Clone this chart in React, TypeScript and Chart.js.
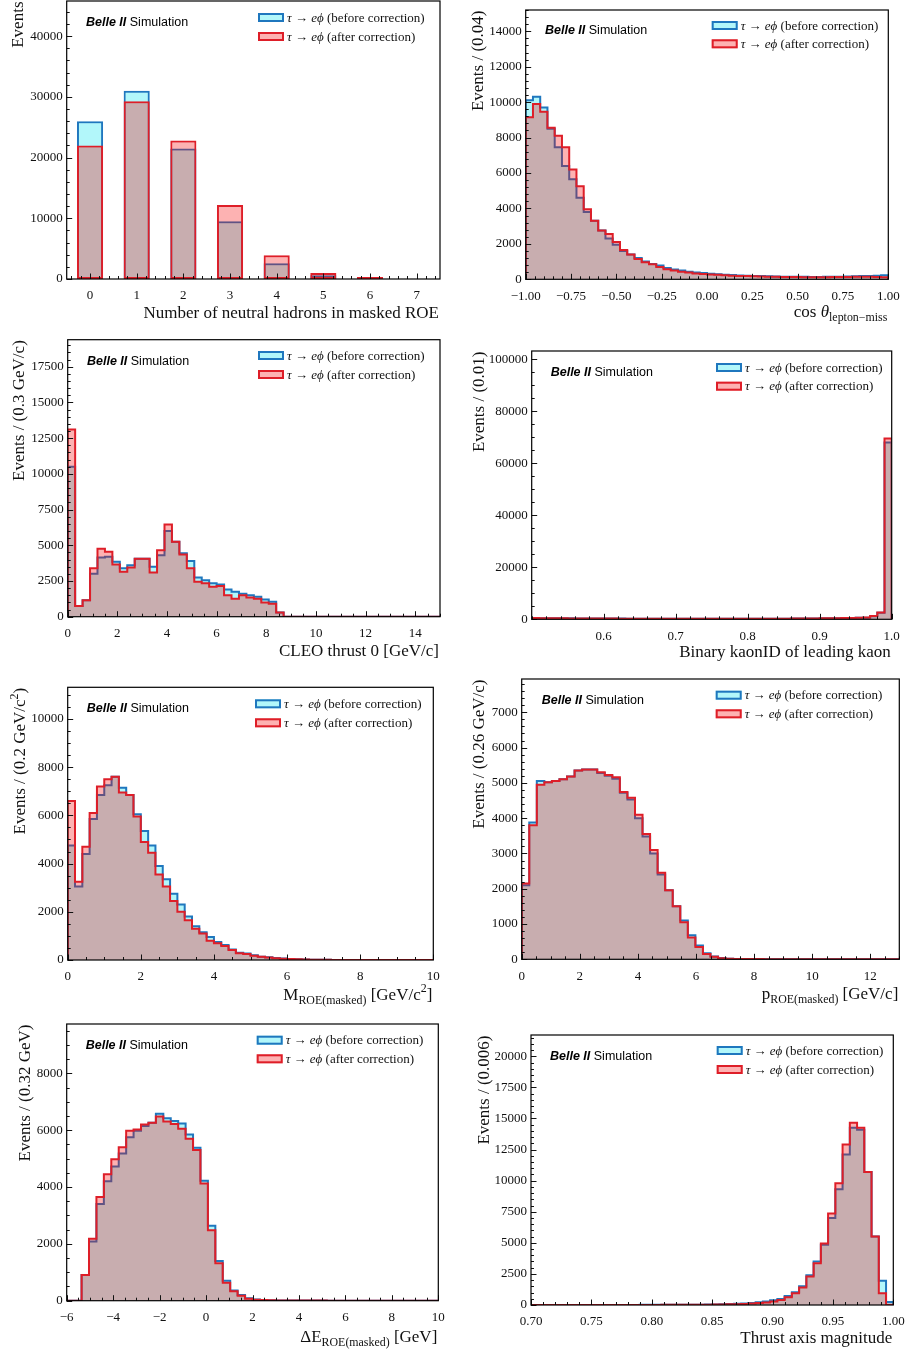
import React, { useEffect, useRef } from 'react';
import { Chart, registerables } from 'chart.js';

Chart.register(...registerables);

const SERIF = '"Liberation Serif", "DejaVu Serif", serif';
const SANS = '"Liberation Sans", Arial, sans-serif';

const BEFORE_EDGE = 'rgb(31,119,190)';
const AFTER_EDGE = 'rgb(222,30,40)';
const BEFORE_FILL = 'rgba(0,230,240,0.3)';
const AFTER_FILL = 'rgba(248,0,0,0.3)';

// ---------------- data ----------------
// Panel 1: number of neutral hadrons in masked ROE
const nhadCategories = [0, 1, 2, 3, 4, 5, 6, 7];
const nhadBefore = [26000, 31000, 21500, 9500, 2600, 600, 120, 0];
const nhadAfter = [22000, 29300, 22800, 12200, 3900, 1000, 350, 0];
const nhadXTicks = [0, 1, 2, 3, 4, 5, 6, 7];
const nhadYTicks = [0, 10000, 20000, 30000, 40000];

// Panel 2: cos theta lepton-miss, 50 bins in [-1, 1]
const cosRange = [-1, 1];
const cosBefore = [10100, 10300, 9700, 8500, 7450, 6400, 5650, 4600, 3800, 3300,
  2750, 2300, 1950, 1600, 1400, 1200, 1000, 870, 780, 640,
  560, 500, 430, 390, 360, 320, 290, 260, 240, 220,
  200, 190, 180, 170, 160, 150, 145, 140, 140, 135,
  135, 140, 140, 150, 160, 170, 180, 190, 200, 230];
const cosAfter = [9150, 9900, 9450, 8550, 8100, 7450, 6200, 5250, 3950, 3300,
  2750, 2550, 2100, 1650, 1400, 1150, 960, 850, 700, 570,
  490, 430, 380, 330, 300, 270, 250, 230, 200, 190,
  180, 170, 160, 150, 140, 135, 130, 125, 120, 120,
  120, 120, 125, 130, 135, 140, 140, 140, 130, 110];
const cosXTicks = [-1, -0.75, -0.5, -0.25, 0, 0.25, 0.5, 0.75, 1];
const cosYTicks = [0, 2000, 4000, 6000, 8000, 10000, 12000, 14000];

// Panel 3: CLEO thrust 0, 50 bins in [0, 15]
const cleoRange = [0, 15];
const cleoBefore = [10500, 750, 1150, 3000, 4150, 4200, 3850, 3400, 3600, 4050,
  4050, 3500, 4300, 6000, 5250, 4450, 3900, 2750, 2550, 2350,
  2250, 1900, 1750, 1600, 1500, 1400, 1200, 1050, 300, 0,
  0, 0, 0, 0, 0, 0, 0, 0, 0, 0,
  0, 0, 0, 0, 0, 0, 0, 0, 0, 0];
const cleoAfter = [13100, 750, 1150, 3400, 4750, 4550, 3650, 3150, 3450, 4050,
  4050, 3100, 4650, 6450, 5250, 4350, 3400, 2450, 2350, 2100,
  2150, 1500, 1250, 1500, 1350, 1250, 1000, 900, 300, 0,
  0, 0, 0, 0, 0, 0, 0, 0, 0, 0,
  0, 0, 0, 0, 0, 0, 0, 0, 0, 0];
const cleoXTicks = [0, 2, 4, 6, 8, 10, 12, 14];
const cleoYTicks = [0, 2500, 5000, 7500, 10000, 12500, 15000, 17500];

// Panel 4: binary kaonID of leading kaon, 50 bins in [0.5, 1.0]
const kaonRange = [0.5, 1.0];
const kaonBefore = [480, 450, 420, 400, 380, 360, 340, 320, 300, 290,
  280, 270, 260, 250, 240, 230, 220, 210, 200, 200,
  190, 190, 180, 180, 180, 180, 180, 190, 190, 200,
  200, 210, 220, 230, 240, 250, 270, 290, 310, 340,
  370, 400, 440, 480, 520, 600, 620, 1200, 2500, 68000];
const kaonAfter = [460, 430, 400, 380, 360, 340, 320, 300, 290, 280,
  270, 260, 250, 240, 230, 220, 210, 200, 190, 190,
  180, 180, 170, 170, 170, 170, 170, 180, 180, 190,
  190, 200, 210, 220, 230, 240, 260, 280, 300, 330,
  360, 390, 430, 470, 510, 580, 650, 1270, 2650, 69500];
const kaonXTicks = [0.6, 0.7, 0.8, 0.9, 1.0];
const kaonYTicks = [0, 20000, 40000, 60000, 80000, 100000];

// Panel 5: M_ROE(masked), 50 bins in [0, 10]
const mroeRange = [0, 10];
const mroeBefore = [4750, 3050, 4400, 5850, 6850, 7250, 7600, 7150, 6850, 6050,
  5350, 4750, 3900, 3350, 2750, 2300, 1800, 1400, 1150, 950,
  750, 620, 440, 300, 270, 200, 140, 110, 80, 60,
  45, 30, 20, 15, 10, 8, 5, 4, 3, 2,
  2, 1, 1, 1, 0, 0, 0, 0, 0, 0];
const mroeAfter = [6600, 3250, 4700, 6100, 7200, 7500, 7600, 6950, 6850, 5950,
  4900, 4450, 3550, 3050, 2450, 2000, 1650, 1300, 1100, 800,
  690, 580, 420, 280, 250, 180, 130, 100, 75, 55,
  40, 28, 18, 13, 9, 7, 5, 4, 3, 2,
  2, 1, 1, 1, 0, 0, 0, 0, 0, 0];
const mroeXTicks = [0, 2, 4, 6, 8, 10];
const mroeYTicks = [0, 2000, 4000, 6000, 8000, 10000];

// Panel 6: p_ROE(masked), 50 bins in [0, 13]
const proeRange = [0, 13];
const proeBefore = [2100, 3880, 5050, 5020, 5050, 5100, 5180, 5350, 5380, 5380,
  5280, 5200, 5120, 4720, 4530, 4000, 3480, 3000, 2400, 1960,
  1500, 1100, 680, 390, 170, 80, 35, 18, 10, 8,
  6, 5, 4, 4, 3, 3, 2, 2, 2, 2,
  1, 1, 1, 1, 1, 1, 0, 0, 0, 0];
const proeAfter = [2150, 3800, 4950, 5020, 5050, 5100, 5180, 5350, 5380, 5380,
  5300, 5220, 5160, 4740, 4580, 4100, 3550, 3100, 2450, 1960,
  1500, 1050, 620, 350, 150, 70, 30, 15, 10, 8,
  6, 5, 4, 4, 3, 3, 2, 2, 2, 2,
  1, 1, 1, 1, 1, 1, 0, 0, 0, 0];
const proeXTicks = [0, 2, 4, 6, 8, 10, 12];
const proeYTicks = [0, 1000, 2000, 3000, 4000, 5000, 6000, 7000];

// Panel 7: Delta E_ROE(masked), 50 bins in [-6, 10]
const deRange = [-6, 10];
const deBefore = [0, 0, 900, 2080, 3400, 4200, 4720, 5180, 5750, 5980,
  6150, 6260, 6580, 6420, 6320, 6230, 5850, 5380, 4220, 2640,
  1400, 700, 360, 200, 90, 40, 25, 15, 10, 8,
  6, 5, 4, 3, 3, 2, 2, 2, 1, 1,
  1, 1, 1, 1, 0, 0, 0, 0, 0, 0];
const deAfter = [0, 0, 900, 2180, 3650, 4450, 4980, 5400, 5980, 6020,
  6200, 6260, 6480, 6300, 6220, 6050, 5700, 5300, 4120, 2480,
  1320, 630, 330, 170, 70, 35, 22, 14, 9, 7,
  6, 5, 4, 3, 3, 2, 2, 2, 1, 1,
  1, 1, 1, 1, 0, 0, 0, 0, 0, 0];
const deXTicks = [-6, -4, -2, 0, 2, 4, 6, 8, 10];
const deYTicks = [0, 2000, 4000, 6000, 8000];

// Panel 8: thrust axis magnitude, 50 bins in [0.70, 1.00]
const thrRange = [0.7, 1.0];
const thrBefore = [2, 2, 2, 3, 3, 3, 4, 4, 5, 5,
  6, 7, 8, 9, 10, 11, 12, 13, 14, 15,
  18, 20, 25, 30, 40, 50, 60, 80, 100, 130,
  170, 220, 280, 380, 480, 720, 1020, 1500, 2400, 3500,
  4850, 7000, 9300, 12100, 14250, 14100, 10700, 5500, 1950, 250];
const thrAfter = [1, 1, 2, 2, 2, 3, 3, 3, 4, 4,
  5, 5, 6, 7, 8, 8, 9, 10, 11, 12,
  12, 14, 18, 22, 28, 35, 45, 55, 70, 90,
  120, 160, 210, 290, 410, 620, 950, 1400, 2300, 3350,
  4950, 7350, 9800, 12900, 14650, 14250, 10700, 5500, 950, 30];
const thrXTicks = [0.7, 0.75, 0.8, 0.85, 0.9, 0.95, 1.0];
const thrYTicks = [0, 2500, 5000, 7500, 10000, 12500, 15000, 17500, 20000];

// ---------------- helpers ----------------
const minus = (s) => s.replace('-', '\u2212');
const fmtInt = (v) => minus(String(Math.round(v)));
const fmt1 = (v) => minus(v.toFixed(1));
const fmt2 = (v) => minus(v.toFixed(2));

function stepPoints(range, values) {
  const [lo, hi] = range;
  const w = (hi - lo) / values.length;
  const pts = [{ x: lo, y: 0 }];
  values.forEach((v, i) => pts.push({ x: lo + i * w, y: v }));
  pts.push({ x: hi, y: 0 });
  return pts;
}

function minorValues(min, max, step, majors) {
  const out = [];
  const k0 = Math.ceil(min / step - 1e-6);
  const k1 = Math.floor(max / step + 1e-6);
  for (let k = k0; k <= k1; k++) {
    const v = k * step;
    if (!majors.some((m) => Math.abs(m - v) < step * 1e-3)) out.push(v);
  }
  return out;
}

function drawSegs(ctx, segs, x, y, size, align) {
  const parts = segs.map((s) => {
    const sz = s.sub || s.sup ? size * 0.7 : size;
    const font = `${s.it ? 'italic ' : ''}${sz}px ${SERIF}`;
    ctx.font = font;
    return { ...s, font, w: ctx.measureText(s.t).width };
  });
  const total = parts.reduce((a, p) => a + p.w, 0);
  let cx = align === 'right' ? x - total : x;
  ctx.textAlign = 'left';
  ctx.textBaseline = 'alphabetic';
  for (const p of parts) {
    ctx.font = p.font;
    const dy = p.sub ? size * 0.27 : p.sup ? -size * 0.42 : 0;
    ctx.fillText(p.t, cx, y + dy);
    cx += p.w;
  }
}

// ---------------- panel layout specs ----------------
const panels = [
  {
    id: 'nhad', kind: 'bar', canvas: [0, 0, 453, 335], plot: [66.7, 1, 440, 279],
    xRange: [-0.5, 7.5], yMax: 45800, cats: nhadCategories, before: nhadBefore, after: nhadAfter,
    xTicks: nhadXTicks, xMinor: 0.2, xFmt: fmtInt, yTicks: nhadYTicks, yMinor: 2000,
    yTitle: [{ t: 'Events' }], yTitleX: 23,
    xTitle: [{ t: 'Number of neutral hadrons in masked ROE' }], xTitleY: 317.5,
    legend: [258, 13, 19], belle: [86, 26],
  },
  {
    id: 'cos', kind: 'hist', canvas: [453, 0, 454, 335], plot: [525.7, 10, 888.3, 279.3],
    xRange: cosRange, yMax: 15200, before: cosBefore, after: cosAfter,
    xTicks: cosXTicks, xMinor: 0.05, xFmt: fmt2, yTicks: cosYTicks, yMinor: 400,
    yTitle: [{ t: 'Events / (0.04)' }], yTitleX: 482.5,
    xTitle: [{ t: 'cos ' }, { t: '\u03b8', it: true }, { t: 'lepton\u2212miss', sub: true }], xTitleY: 316.5,
    legend: [711.7, 21, 18.3], belle: [545, 34.3],
  },
  {
    id: 'cleo', kind: 'hist', canvas: [0, 335, 453, 340], plot: [67.7, 339.7, 440, 616.7],
    xRange: cleoRange, yMax: 19390, before: cleoBefore, after: cleoAfter,
    xTicks: cleoXTicks, xMinor: 0.5, xFmt: fmtInt, yTicks: cleoYTicks, yMinor: 500,
    yTitle: [{ t: 'Events / (0.3 GeV/c)' }], yTitleX: 23.5,
    xTitle: [{ t: 'CLEO thrust 0 [GeV/c]' }], xTitleY: 655.5,
    legend: [258, 351, 19], belle: [87, 365],
  },
  {
    id: 'kaon', kind: 'hist', canvas: [453, 335, 454, 340], plot: [531.7, 351, 891.7, 619.3],
    xRange: kaonRange, yMax: 103190, before: kaonBefore, after: kaonAfter,
    xTicks: kaonXTicks, xMinor: 0.02, xFmt: fmt1, yTicks: kaonYTicks, yMinor: 5000,
    yTitle: [{ t: 'Events / (0.01)' }], yTitleX: 483.5,
    xTitle: [{ t: 'Binary kaonID of leading kaon' }], xTitleY: 656.5,
    legend: [716, 363, 18.7], belle: [550.7, 376],
  },
  {
    id: 'mroe', kind: 'hist', canvas: [0, 675, 453, 340], plot: [67.7, 687.3, 433.3, 960],
    xRange: mroeRange, yMax: 11315, before: mroeBefore, after: mroeAfter,
    xTicks: mroeXTicks, xMinor: 0.5, xFmt: fmtInt, yTicks: mroeYTicks, yMinor: 500,
    yTitle: [{ t: 'Events / (0.2 GeV/c' }, { t: '2', sup: true }, { t: ')' }], yTitleX: 25,
    xTitle: [{ t: 'M' }, { t: 'ROE(masked)', sub: true }, { t: ' [GeV/c' }, { t: '2', sup: true }, { t: ']' }], xTitleY: 999.5,
    legend: [255, 699.3, 19], belle: [86.7, 712],
  },
  {
    id: 'proe', kind: 'hist', canvas: [453, 675, 454, 340], plot: [521.7, 679, 899.3, 959.3],
    xRange: proeRange, yMax: 7944, before: proeBefore, after: proeAfter,
    xTicks: proeXTicks, xMinor: 0.5, xFmt: fmtInt, yTicks: proeYTicks, yMinor: 200,
    yTitle: [{ t: 'Events / (0.26 GeV/c)' }], yTitleX: 484,
    xTitle: [{ t: 'p' }, { t: 'ROE(masked)', sub: true }, { t: ' [GeV/c]' }], xTitleY: 998.5,
    legend: [715.7, 690.7, 18.6], belle: [541.7, 704.3],
  },
  {
    id: 'de', kind: 'hist', canvas: [0, 1015, 453, 336], plot: [66.7, 1024, 438.3, 1300.7],
    xRange: deRange, yMax: 9734, before: deBefore, after: deAfter,
    xTicks: deXTicks, xMinor: 0.5, xFmt: fmtInt, yTicks: deYTicks, yMinor: 500,
    yTitle: [{ t: 'Events / (0.32 GeV)' }], yTitleX: 29.5,
    xTitle: [{ t: '\u0394E' }, { t: 'ROE(masked)', sub: true }, { t: ' [GeV]' }], xTitleY: 1341.5,
    legend: [256.7, 1035.7, 18.6], belle: [85.7, 1049],
  },
  {
    id: 'thr', kind: 'hist', canvas: [453, 1015, 454, 336], plot: [531, 1035, 893.3, 1305],
    xRange: thrRange, yMax: 21713, before: thrBefore, after: thrAfter,
    xTicks: thrXTicks, xMinor: 0.01, xFmt: fmt2, yTicks: thrYTicks, yMinor: 500,
    yTitle: [{ t: 'Events / (0.006)' }], yTitleX: 488.5,
    xTitle: [{ t: 'Thrust axis magnitude' }], xTitleY: 1343,
    legend: [716.7, 1046, 19], belle: [550, 1060.3],
  },
];

function decoPlugin(spec) {
  return {
    id: 'deco_' + spec.id,
    afterDraw(chart) {
      const ctx = chart.ctx;
      const [cx, cy] = spec.canvas;
      const { left, right, top, bottom } = chart.chartArea;
      const xs = chart.scales.x;
      const ys = chart.scales.y;
      ctx.save();
      // ticks (inward)
      ctx.strokeStyle = '#111';
      ctx.lineWidth = 1;
      const tick = (x1, y1, x2, y2) => {
        ctx.beginPath();
        ctx.moveTo(x1, y1);
        ctx.lineTo(x2, y2);
        ctx.stroke();
      };
      spec.xTicks.forEach((v) => {
        const px = Math.round(xs.getPixelForValue(v)) + 0.5;
        tick(px, bottom, px, bottom - 5.5);
      });
      minorValues(spec.xRange[0], spec.xRange[1], spec.xMinor, spec.xTicks).forEach((v) => {
        const px = Math.round(xs.getPixelForValue(v)) + 0.5;
        tick(px, bottom, px, bottom - 3);
      });
      spec.yTicks.forEach((v) => {
        const py = Math.round(ys.getPixelForValue(v)) + 0.5;
        tick(left, py, left + 5.5, py);
      });
      minorValues(0, spec.yMax, spec.yMinor, spec.yTicks).forEach((v) => {
        const py = Math.round(ys.getPixelForValue(v)) + 0.5;
        tick(left, py, left + 3, py);
      });
      // frame
      ctx.strokeStyle = '#000';
      ctx.lineWidth = 1.2;
      ctx.strokeRect(left, top, right - left, bottom - top);

      ctx.fillStyle = '#111';
      // x title
      drawSegs(ctx, spec.xTitle, right - 1, spec.xTitleY - cy, 17, 'right');
      // y title
      ctx.save();
      ctx.translate(spec.yTitleX - cx, top + 0.5);
      ctx.rotate(-Math.PI / 2);
      drawSegs(ctx, spec.yTitle, 0, 0, 17, 'right');
      ctx.restore();

      // Belle II Simulation
      const [bx, by] = spec.belle;
      ctx.textAlign = 'left';
      ctx.textBaseline = 'alphabetic';
      ctx.fillStyle = '#000';
      ctx.font = `bold italic 12.5px ${SANS}`;
      ctx.fillText('Belle II', bx - cx, by - cy);
      const bw = ctx.measureText('Belle II').width;
      ctx.font = `12.5px ${SANS}`;
      ctx.fillText(' Simulation', bx - cx + bw, by - cy);

      // legend
      const [lx, ly, ldy] = spec.legend;
      const rows = [
        { fill: BEFORE_FILL, edge: BEFORE_EDGE, label: ' (before correction)' },
        { fill: AFTER_FILL, edge: AFTER_EDGE, label: ' (after correction)' },
      ];
      rows.forEach((r, i) => {
        const x0 = lx - cx;
        const y0 = ly - cy + i * ldy;
        ctx.fillStyle = '#fff';
        ctx.fillRect(x0, y0, 26, 9);
        ctx.fillStyle = r.fill;
        ctx.fillRect(x0, y0, 26, 9);
        ctx.strokeStyle = r.edge;
        ctx.lineWidth = 2;
        ctx.strokeRect(x0 + 1, y0 + 1, 24, 7);
        ctx.fillStyle = '#111';
        drawSegs(ctx, [
          { t: '\u03c4', it: true },
          { t: ' \u2192 ' },
          { t: 'e', it: true },
          { t: '\u03d5', it: true },
          { t: r.label },
        ], x0 + 29, y0 + 8.5, 13, 'left');
      });
      ctx.restore();
    },
  };
}

function Panel({ spec }) {
  const ref = useRef(null);
  useEffect(() => {
    const canvas = ref.current;
    const [cx, cy, cw, ch] = spec.canvas;
    const [L, T, R, B] = spec.plot;
    let datasets;
    if (spec.kind === 'bar') {
      datasets = [
        {
          label: 'before', order: 2,
          data: spec.cats.map((c, i) => ({ x: c, y: spec.before[i] })),
          backgroundColor: BEFORE_FILL, borderColor: BEFORE_EDGE, borderWidth: 2,
          borderSkipped: false, grouped: false, barPercentage: 0.56, categoryPercentage: 1,
        },
        {
          label: 'after', order: 1,
          data: spec.cats.map((c, i) => ({ x: c, y: spec.after[i] })),
          backgroundColor: AFTER_FILL, borderColor: AFTER_EDGE, borderWidth: 2,
          borderSkipped: false, grouped: false, barPercentage: 0.56, categoryPercentage: 1,
        },
      ];
    } else {
      const common = { stepped: true, fill: 'origin', pointRadius: 0, borderWidth: 2, tension: 0, borderJoinStyle: 'miter' };
      datasets = [
        { ...common, label: 'before', order: 2, data: stepPoints(spec.xRange, spec.before), backgroundColor: BEFORE_FILL, borderColor: BEFORE_EDGE },
        { ...common, label: 'after', order: 1, data: stepPoints(spec.xRange, spec.after), backgroundColor: AFTER_FILL, borderColor: AFTER_EDGE },
      ];
    }
    const tickFont = { family: SERIF, size: 13 };
    const chart = new Chart(canvas, {
      type: spec.kind === 'bar' ? 'bar' : 'line',
      data: { datasets },
      options: {
        animation: false,
        responsive: false,
        maintainAspectRatio: false,
        devicePixelRatio: 1,
        events: [],
        layout: { padding: { left: 0, top: T - cy, right: cx + cw - R, bottom: 0 } },
        plugins: { legend: { display: false }, tooltip: { enabled: false }, title: { display: false } },
        scales: {
          x: {
            type: 'linear', min: spec.xRange[0], max: spec.xRange[1], offset: false,
            grid: { display: false, drawTicks: false }, border: { display: false },
            ticks: { autoSkip: false, maxRotation: 0, minRotation: 0, padding: 9, color: '#111', font: tickFont, callback: (v) => spec.xFmt(Number(v)) },
            afterBuildTicks: (scale) => { scale.ticks = spec.xTicks.map((v) => ({ value: v })); },
            afterFit: (scale) => {
              scale.height = cy + ch - B;
              scale.paddingLeft = 0; scale.paddingRight = 0; scale.paddingTop = 0; scale.paddingBottom = 0;
            },
          },
          y: {
            type: 'linear', min: 0, max: spec.yMax,
            grid: { display: false, drawTicks: false }, border: { display: false },
            ticks: { autoSkip: false, padding: 4, color: '#111', font: tickFont, callback: (v) => fmtInt(Number(v)) },
            afterBuildTicks: (scale) => { scale.ticks = spec.yTicks.map((v) => ({ value: v })); },
            afterFit: (scale) => {
              scale.width = L - cx;
              scale.paddingLeft = 0; scale.paddingRight = 0; scale.paddingTop = 0; scale.paddingBottom = 0;
            },
          },
        },
      },
      plugins: [decoPlugin(spec)],
    });
    return () => chart.destroy();
  }, [spec]);
  const [cx, cy, cw, ch] = spec.canvas;
  return (
    <canvas
      ref={ref}
      width={cw}
      height={ch}
      style={{ position: 'absolute', left: cx, top: cy, width: cw, height: ch }}
    />
  );
}

export default function App() {
  return (
    <div style={{ position: 'absolute', left: 0, top: 0, width: 907, height: 1351, background: '#fff' }}>
      {panels.map((p) => (
        <Panel key={p.id} spec={p} />
      ))}
    </div>
  );
}
